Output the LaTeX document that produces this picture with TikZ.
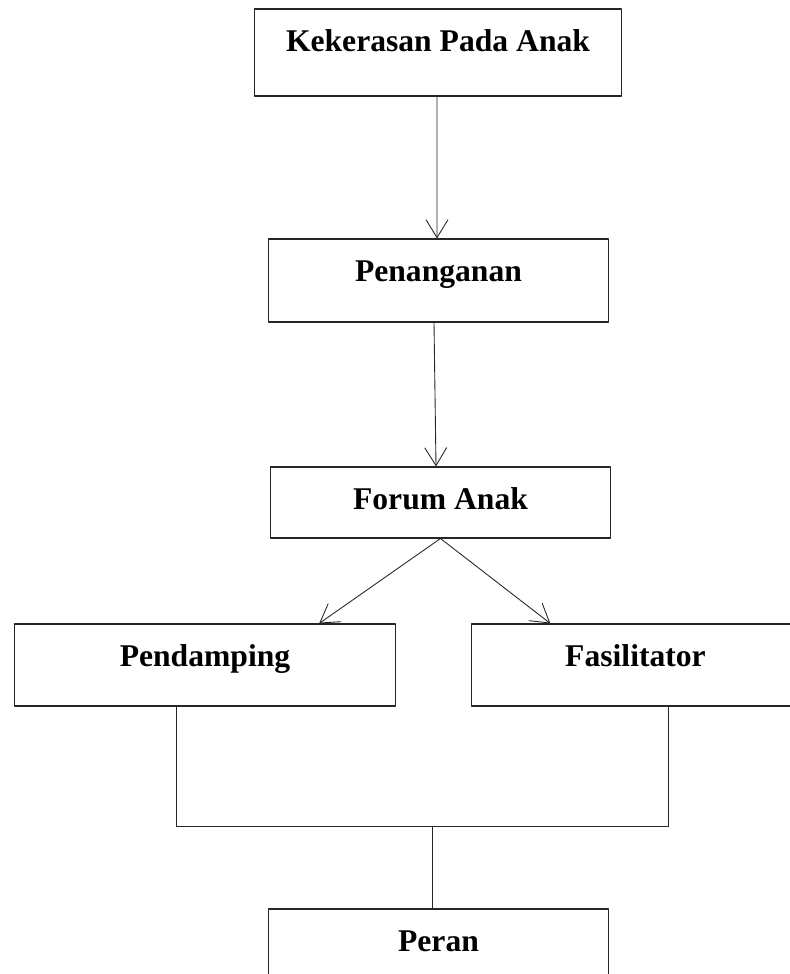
\documentclass[tikz,border=0pt]{standalone}
\usepackage{fontspec}
\setmainfont{Liberation Serif}
\usetikzlibrary{arrows.meta}
\tikzset{
	kotak/.style={draw=black!85, line width=0.6pt, inner sep=0pt, text height=0.84cm,
		font=\fontsize{18}{22}\selectfont\bfseries},
	panah/.style={-{Straight Barb[length=0.36cm,width=0.44cm]}, draw=black!85, line width=0.5pt},
	garis/.style={draw=black!85, line width=0.5pt}
}
\begin{document}
\begin{tikzpicture}[x=0.02cm, y=-0.02cm, line join=round]
		\useasboundingbox (0,0) rectangle (790,974);
		\clip (0,0) rectangle (790,974);
		%\draw[line width=0.05pt,gray,dashed] (0,0) grid[step=50] (790,974);
		\node[kotak, minimum width=7.36cm, text depth=0.90cm] (kekerasan) at (438,52.5) {Kekerasan Pada Anak};
		\node[kotak, minimum width=6.82cm, text depth=0.82cm] (penanganan) at (438.5,280.5) {Penanganan};
		\node[kotak, minimum width=6.82cm, text depth=0.58cm] (forum) at (440.5,502.5) {Forum Anak};
		\node[kotak, minimum width=7.64cm, text depth=0.80cm] (pendamping) at (205,665) {Pendamping};
		\node[kotak, minimum width=6.58cm, text depth=0.80cm] (fasilitator) at (635.5,665) {Fasilitator};
		\node[kotak, minimum width=6.82cm, text depth=0.78cm] (peran) at (438.5,949.5) {Peran};
		\coordinate (kiri) at (176,826);
		\coordinate (kanan) at (668,826);
		\coordinate (tengah) at (432,826);
		\draw[panah] ([xshift=-0.02cm]kekerasan.south) -- ([xshift=-0.03cm]penanganan.north);
		\draw[panah] ([xshift=-0.09cm]penanganan.south) -- ([xshift=-0.09cm]forum.north);
		\draw[panah] (forum.south) -- (pendamping.20);
		\draw[panah] (forum.south) -- (fasilitator.154);
		\draw[garis] (pendamping.south -| kiri) -- (kiri) -- (kanan) -- (fasilitator.south -| kanan);
		\draw[garis] (tengah) -- (peran.north -| tengah);
	\end{tikzpicture}
\end{document}
